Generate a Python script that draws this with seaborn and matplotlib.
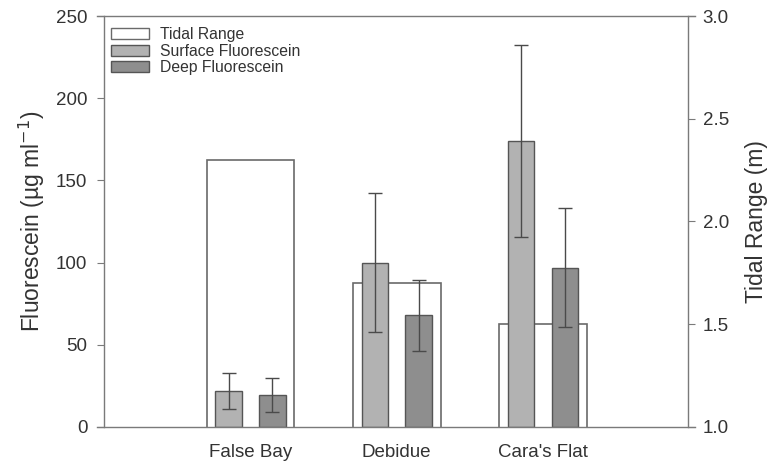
import matplotlib
matplotlib.use("Agg")
import matplotlib.pyplot as plt
import seaborn as sns
import pandas as pd
import numpy as np
from matplotlib.patches import Patch

sites = ["False Bay", "Debidue", "Cara's Flat"]
tidal_range = [2.30, 1.70, 1.50]
surface_fluor = [22, 100, 174]
surface_err = [11, 42.5, 58.5]
deep_fluor = [19.5, 68, 97]
deep_err = [10.5, 21.5, 36]

sns.set_theme(style="white")
plt.rcParams['font.family'] = ['Liberation Sans', 'DejaVu Sans']

fig = plt.figure(figsize=(7.73, 4.67), dpi=100)
ax = fig.add_axes([0.1255, 0.0857, 0.8990 - 0.1255, 0.9657 - 0.0857])
ax2 = ax.twinx()

edge = "#555555"
spine_c = "#7a7a7a"
text_c = "#333333"

# Tidal range bars (right axis)
df_t = pd.DataFrame({"site": sites, "tidal": tidal_range})
sns.barplot(data=df_t, x="site", y="tidal", ax=ax2, width=0.6, color="white",
            edgecolor="#6a6a6a", linewidth=1.2, errorbar=None, saturation=1)
ax2.set_ylim(1.0, 3.0)

# Fluorescein bars (left axis)
df_f = pd.DataFrame({
    "site": sites * 2,
    "value": surface_fluor + deep_fluor,
    "err": surface_err + deep_err,
    "depth": ["Surface Fluorescein"] * 3 + ["Deep Fluorescein"] * 3,
})
pal = {"Surface Fluorescein": "#b2b2b2", "Deep Fluorescein": "#8e8e8e"}
sns.barplot(data=df_f, x="site", y="value", hue="depth", ax=ax, width=0.6, gap=0.4,
            palette=pal, edgecolor=edge, linewidth=1.0, errorbar=None, saturation=1,
            legend=False)

# error bars at bar centers
errs = surface_err + deep_err
vals = surface_fluor + deep_fluor
bars = [p for p in ax.patches if p.get_height() > 0]
for p, v, e in zip(bars, vals, errs):
    xc = p.get_x() + p.get_width() / 2
    ax.errorbar(xc, v, yerr=e, fmt="none", ecolor="#4a4a4a", elinewidth=1.0,
                capsize=5, capthick=1.0, zorder=5)

ax.set_zorder(ax2.get_zorder() + 1)
ax.patch.set_visible(False)

ax.set_ylim(0, 250)
ax.set_yticks([0, 50, 100, 150, 200, 250])
ax2.set_yticks([1.0, 1.5, 2.0, 2.5, 3.0])
ax2.set_yticklabels(["1.0", "1.5", "2.0", "2.5", "3.0"])
ax.set_xlim(-1.05, 3.04)
ax2.set_xlim(-1.05, 3.04)

ax.set_xlabel("")
ax2.set_xlabel("")
ax.set_ylabel("Fluorescein (\u00b5g ml$^{-1}$)", fontsize=16.5, color=text_c, labelpad=6)
ax2.set_ylabel("Tidal Range (m)", fontsize=16.5, color=text_c, labelpad=12)

for a in (ax, ax2):
    for s in a.spines.values():
        s.set_color(spine_c)
        s.set_linewidth(1.0)
    a.tick_params(axis="both", direction="out", length=5, width=0.8, color=spine_c,
                  labelsize=13.5, labelcolor=text_c, pad=7)
ax2.tick_params(axis="y", pad=5.5)

# inset vertical spines, ticks reach out to the frame edge
ax.spines['left'].set_position(('outward', -5))
ax.spines['right'].set_visible(False)
ax2.spines['right'].set_position(('outward', -5))
for k in ('left', 'top', 'bottom'):
    ax2.spines[k].set_visible(False)

ax.tick_params(axis="x", labelsize=13.5, pad=9, length=3)
ax2.tick_params(axis="x", bottom=False, labelbottom=False)

handles = [Patch(facecolor="white", edgecolor="#6a6a6a", label="Tidal Range"),
           Patch(facecolor="#b2b2b2", edgecolor=edge, label="Surface Fluorescein"),
           Patch(facecolor="#8e8e8e", edgecolor=edge, label="Deep Fluorescein")]
leg = ax.legend(handles=handles, loc="upper left", frameon=False, fontsize=11.3,
                handlelength=2.4, handleheight=0.7, labelspacing=0.1,
                borderaxespad=0.3, handletextpad=0.75, bbox_to_anchor=(0.005, 1.0))
for t in leg.get_texts():
    t.set_color(text_c)

fig.savefig("out.png", dpi=100)
